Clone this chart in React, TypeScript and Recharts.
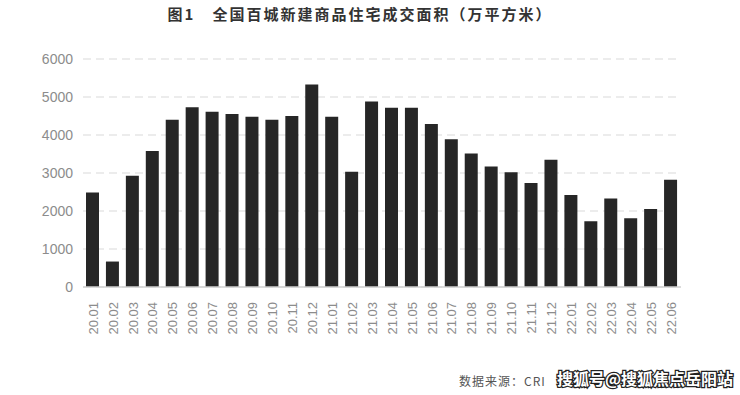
import React from "react";
import { BarChart, Bar, XAxis, YAxis, CartesianGrid } from "recharts";

const months = [
  "20.01", "20.02", "20.03", "20.04", "20.05", "20.06", "20.07", "20.08", "20.09", "20.10",
  "20.11", "20.12", "21.01", "21.02", "21.03", "21.04", "21.05", "21.06", "21.07", "21.08",
  "21.09", "21.10", "21.11", "21.12", "22.01", "22.02", "22.03", "22.04", "22.05", "22.06",
];
const area = [
  2490, 670, 2930, 3580, 4400, 4730, 4610, 4550, 4480, 4400,
  4500, 5330, 4480, 3030, 4880, 4720, 4720, 4290, 3890, 3510,
  3170, 3020, 2740, 3350, 2420, 1730, 2330, 1810, 2050, 2820,
];
const yTicks = [0, 1000, 2000, 3000, 4000, 5000, 6000];
const title = "图1　全国百城新建商品住宅成交面积（万平方米）";
const source = "数据来源：CRI";
const watermark = "搜狐号@搜狐焦点岳阳站";

const data = months.map((m, i) => ({ month: m, value: area[i] }));

const XTick = (props: any) => {
  const { x, y, payload } = props;
  return (
    <text
      x={x}
      y={y + 7}
      transform={`rotate(-90, ${x}, ${y + 7})`}
      textAnchor="end"
      dy="0.36em"
      fontSize={13}
      fill="#8c8c8c"
      fontFamily="'Liberation Sans', Arial, sans-serif"
    >
      {payload.value}
    </text>
  );
};

export default function App() {
  return (
    <div style={{ position: "absolute", left: 0, top: 0, width: 740, height: 395, background: "#fff" }}>
      <div
        style={{
          position: "absolute",
          left: 0,
          top: 3,
          width: 720,
          textAlign: "center",
          fontFamily: "'Noto Sans CJK SC', sans-serif",
          fontWeight: 700,
          fontSize: 15,
          color: "#333",
          letterSpacing: 2,
        }}
      >
        {title}
      </div>
      <BarChart
        width={740}
        height={395}
        data={data}
        margin={{ top: 59, right: 59, bottom: 0, left: 0 }}
        barSize={13}
      >
        <CartesianGrid vertical={false} stroke="#d9d9d9" strokeDasharray="8 5" />
        <XAxis
          dataKey="month"
          interval={0}
          tickLine={false}
          axisLine={{ stroke: "#d0d0d0", strokeWidth: 1.5 }}
          tick={<XTick />}
          height={108}
        />
        <YAxis
          width={83}
          domain={[0, 6000]}
          ticks={yTicks}
          interval={0}
          tickLine={false}
          axisLine={false}
          tickSize={0}
          tickMargin={10}
          tick={{ fontSize: 14, fill: "#8c8c8c", fontFamily: "'Liberation Sans', Arial, sans-serif" }}
        />
        <Bar dataKey="value" fill="#262626" isAnimationActive={false} />
      </BarChart>
      <div
        style={{
          position: "absolute",
          left: 459,
          top: 372,
          fontFamily: "'Noto Sans CJK SC', sans-serif",
          fontSize: 12,
          color: "#555",
          letterSpacing: 1,
        }}
      >
        {source}
      </div>
      <svg style={{ position: "absolute", left: 0, top: 0 }} width={740} height={395}>
        <text
          x={557}
          y={385}
          fontSize={16}
          fontWeight={700}
          fontFamily="'Noto Sans CJK SC', sans-serif"
          fill="#fff"
          stroke="#222"
          strokeWidth={2.5}
          paintOrder="stroke"
        >
          {watermark}
        </text>
      </svg>
    </div>
  );
}
